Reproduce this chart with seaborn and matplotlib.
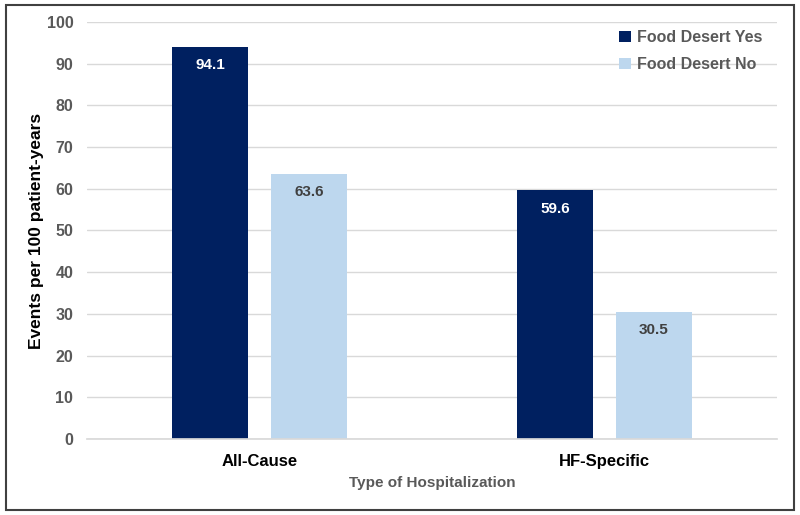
import matplotlib.pyplot as plt
import pandas as pd
import seaborn as sns
from matplotlib.patches import Rectangle

sns.set_theme(style="white")
plt.rcParams['font.family'] = ['Liberation Sans', 'DejaVu Sans']

# Data
categories = ['All-Cause', 'HF-Specific']
groups = ['Food Desert Yes', 'Food Desert No']
yes_values = [94.1, 59.6]
no_values = [63.6, 30.5]

df = pd.DataFrame({
    'Type': categories * 2,
    'Group': [groups[0]] * 2 + [groups[1]] * 2,
    'Value': yes_values + no_values,
})

palette = {'Food Desert Yes': '#002060', 'Food Desert No': '#BDD7EE'}

fig = plt.figure(figsize=(8, 5.15), dpi=100)
ax = fig.add_axes([0.109, 0.1476, 0.862, 0.8097])

sns.barplot(data=df, x='Type', y='Value', hue='Group', palette=palette,
            width=0.574, gap=0.233, ax=ax, saturation=1, linewidth=0)

# Data labels inside the top of each bar
label_colors = ['white', '#404040']
for cont, col in zip(ax.containers, label_colors):
    for bar in cont:
        h = bar.get_height()
        ax.text(bar.get_x() + bar.get_width() / 2, h - 2.8, f'{h:.1f}',
                ha='center', va='top', fontsize=11, fontweight='bold', color=col)

ax.set_ylim(0, 100)
ax.set_yticks(range(0, 101, 10))
ax.set_xlim(-0.5, 1.5)
ax.yaxis.grid(True, color='#D9D9D9', linewidth=1)
ax.set_axisbelow(True)
for s in ['left', 'right', 'top']:
    ax.spines[s].set_visible(False)
ax.spines['bottom'].set_color('#D9D9D9')

ax.tick_params(axis='y', labelsize=11.5, labelcolor='#595959', length=0, pad=10)
ax.tick_params(axis='x', labelsize=12, labelcolor='black', length=0, pad=11)
for t in ax.get_yticklabels():
    t.set_fontweight('bold')
for t in ax.get_xticklabels():
    t.set_fontweight('bold')

ax.set_ylabel('Events per 100 patient-years', fontsize=12.5, fontweight='bold',
              color='black', labelpad=2)
ax.set_xlabel('Type of Hospitalization', fontsize=11, fontweight='bold',
              color='#595959', labelpad=5)

leg = ax.legend(loc='upper right', frameon=False, fontsize=11.5, handlelength=0.7,
                handleheight=0.7, handletextpad=0.4, labelspacing=0.75,
                bbox_to_anchor=(1.0, 1.015))
for t in leg.get_texts():
    t.set_color('#595959')
    t.set_fontweight('bold')

# Border around the whole chart
fig.patches.append(Rectangle((0.008, 0.01), 0.985, 0.98, transform=fig.transFigure,
                             fill=False, edgecolor='#404040', linewidth=1.5))

fig.savefig('out.png', dpi=100)
